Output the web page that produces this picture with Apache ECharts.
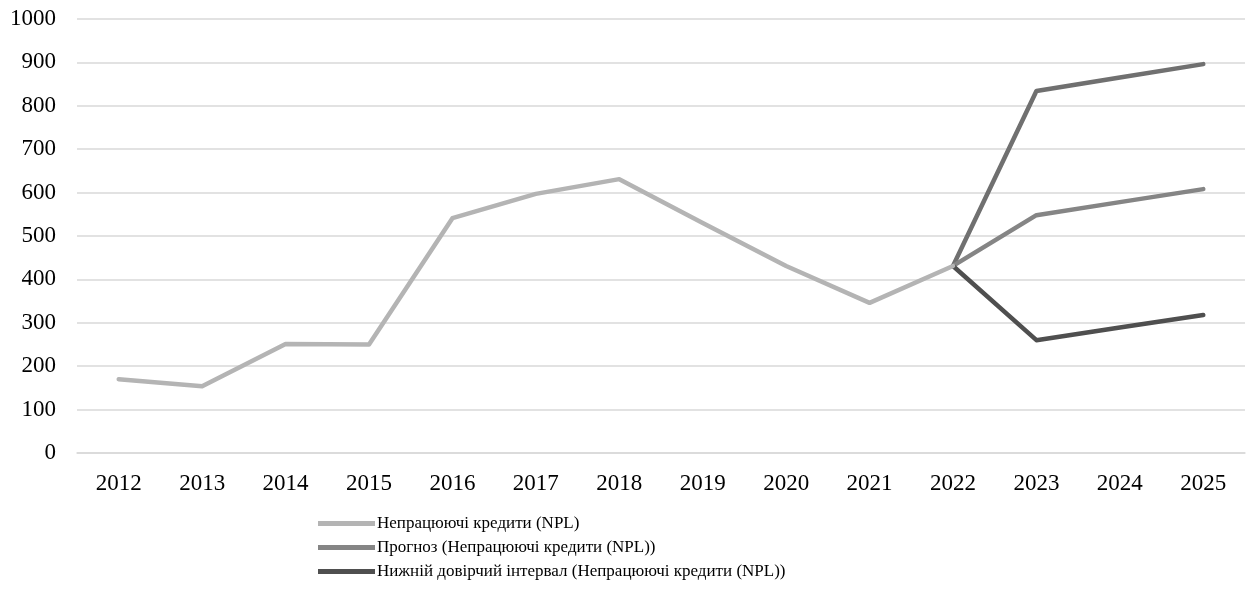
<!DOCTYPE html>
<html>
<head>
<meta charset="utf-8">
<script src="https://cdn.jsdelivr.net/npm/echarts@6/dist/echarts.min.js"></script>
<style>
  html, body { margin: 0; padding: 0; background: #fff; }
  #chart { width: 1251px; height: 601px; }
</style>
</head>
<body>
<div id="chart"></div>
<script>
var years = ['2012', '2013', '2014', '2015', '2016', '2017', '2018', '2019', '2020', '2021', '2022', '2023', '2024', '2025'];
var npl = [170, 154, 251, 250, 541, 597, 631, 530, 431, 346, 431, null, null, null];
var forecast = [null, null, null, null, null, null, null, null, null, null, 431, 548, 578, 608];
var upper = [null, null, null, null, null, null, null, null, null, null, 431, 834, 865, 896];
var lower = [null, null, null, null, null, null, null, null, null, null, 431, 260, 289, 318];

var names = [
  'Непрацюючі кредити (NPL)',
  'Прогноз (Непрацюючі кредити (NPL))',
  'Нижній довірчий інтервал (Непрацюючі кредити (NPL))',
  'Верхній довірчий інтервал (Непрацюючі кредити (NPL))'
];

var font = '"Liberation Serif", "DejaVu Serif", serif';

function line(name, data, color) {
  return {
    name: name,
    type: 'line',
    data: data,
    symbol: 'none',
    lineStyle: { width: 4.5, color: color, cap: 'round', join: 'round' },
    itemStyle: { color: color }
  };
}

var chart = echarts.init(document.getElementById('chart'));
chart.setOption({
  animation: false,
  textStyle: { fontFamily: font },
  grid: { left: 77, top: 19, width: 1168, height: 434, containLabel: false },
  legend: {
    data: [names[0], names[1], names[2]],
    orient: 'vertical',
    left: 313,
    top: 510,
    itemWidth: 57,
    itemHeight: 5,
    itemGap: 7,
    icon: 'rect',
    textStyle: { fontFamily: font, fontSize: 17, color: '#000', padding: [0, 0, 0, -3] }
  },
  xAxis: {
    type: 'category',
    data: years,
    boundaryGap: true,
    axisLine: { show: true, lineStyle: { color: '#d9d9d9', width: 1.5 } },
    axisTick: { show: false },
    axisLabel: { fontFamily: font, fontSize: 23, color: '#000', margin: 19 }
  },
  yAxis: {
    type: 'value',
    min: 0,
    max: 1000,
    interval: 100,
    axisLine: { show: false },
    axisTick: { show: false },
    splitLine: { lineStyle: { color: '#d9d9d9', width: 1.5 } },
    axisLabel: {
      fontFamily: font, fontSize: 23, color: '#000', margin: 21,
      formatter: function (v) { return String(v); }
    }
  },
  series: [
    line(names[3], upper, '#707070'),
    line(names[1], forecast, '#858585'),
    line(names[2], lower, '#4f4f4f'),
    line(names[0], npl, '#b4b4b4')
  ]
});
</script>
</body>
</html>
